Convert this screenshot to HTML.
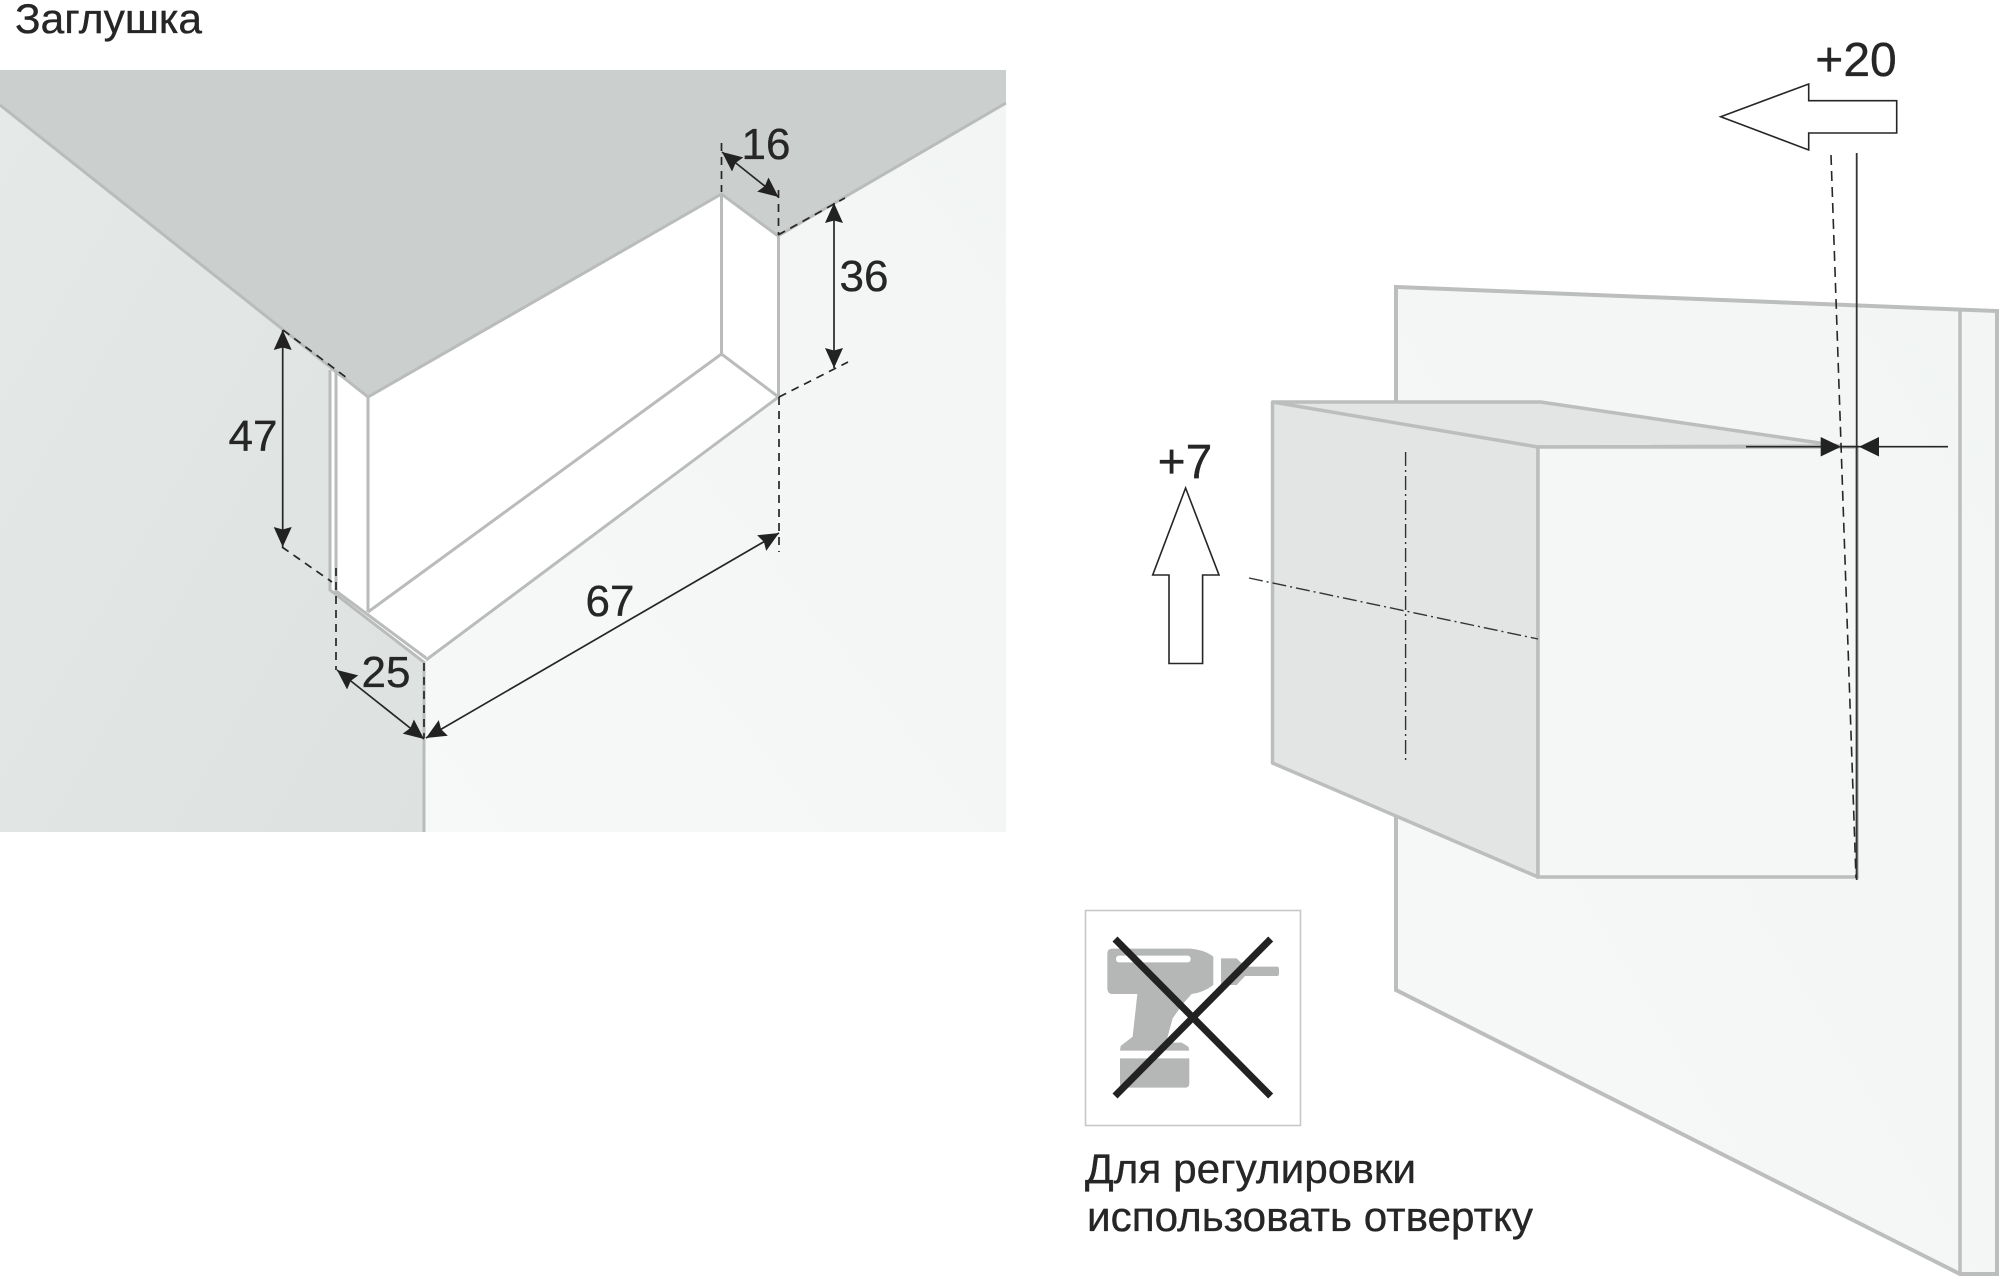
<!DOCTYPE html>
<html><head><meta charset="utf-8"><title>Заглушка</title>
<style>html,body{margin:0;padding:0;background:#fff}svg{display:block}text{font-family:"Liberation Sans",sans-serif;fill:#262626;stroke:#262626;stroke-width:.35}</style></head>
<body>
<svg xmlns="http://www.w3.org/2000/svg" width="2000" height="1276" viewBox="0 0 2000 1276">
<defs>
<marker id="a" markerUnits="userSpaceOnUse" markerWidth="24" markerHeight="20" refX="20" refY="9" orient="auto-start-reverse"><path d="M0,0 L20,9 L0,18 L2.5,9Z" fill="#222"/></marker>
<linearGradient id="lw" x1="0" y1="0" x2="1" y2="1"><stop offset="0" stop-color="#e5e9e7"/><stop offset="1" stop-color="#dde1df"/></linearGradient>
<linearGradient id="rw" x1="0" y1="1" x2="1" y2="0"><stop offset="0" stop-color="#f7f8f8"/><stop offset="1" stop-color="#f2f5f4"/></linearGradient>
</defs>
<rect width="2000" height="1276" fill="#fff"/>

<!-- Left panel walls -->
<polygon points="0,103 369,397 330,590 425,663 424,832 0,832" fill="url(#lw)"/>
<polygon points="1006,103 778,236 778,397 424,662 424,832 1006,832" fill="url(#rw)"/>
<polygon points="330,370 369,397 721,194 778,236 778,397 427,659 425,663 330,590" fill="#fff"/>
<polygon points="0,70 1006,70 1006,103 778,236 721.5,194 368,397 0,105" fill="#cbcfce"/>
<g fill="none" stroke="#b9bcbb" stroke-width="3">
<polyline points="0,105 368,397 721.5,194 778,236 1006,103"/>
<line x1="424" y1="663" x2="424" y2="832"/>
<line x1="368" y1="397" x2="368" y2="612"/>
<line x1="721.5" y1="194" x2="721.5" y2="354"/>
<line x1="778.5" y1="236" x2="778.5" y2="397"/>
<polyline points="368,612 721.5,354 778.5,397 426,660"/>
<polyline points="330,370 330,590 425,663"/>
<polyline points="336,372 336,591 426,658"/>
</g>

<!-- Left panel dashes -->
<g fill="none" stroke="#262626" stroke-width="1.7" stroke-dasharray="8 6">
<line x1="721.5" y1="143" x2="721.5" y2="192"/>
<line x1="778.5" y1="190" x2="778.5" y2="235"/>
<line x1="778" y1="235" x2="845" y2="198"/>
<line x1="779" y1="397" x2="848" y2="362"/>
<line x1="779" y1="397" x2="779" y2="552"/>
<line x1="283" y1="330" x2="347" y2="378"/>
<line x1="282" y1="547" x2="332" y2="582"/>
<line x1="336" y1="568" x2="336" y2="670"/>
<line x1="424" y1="663" x2="424" y2="738"/>
</g>
<!-- Dimension lines -->
<g fill="none" stroke="#262626" stroke-width="1.7" marker-start="url(#a)" marker-end="url(#a)">
<line x1="722" y1="152" x2="778.5" y2="197"/>
<line x1="834" y1="203" x2="834" y2="368"/>
<line x1="282.7" y1="330" x2="282.7" y2="547"/>
<line x1="337" y1="670" x2="424" y2="739"/>
<line x1="426" y1="738" x2="779" y2="533"/>
</g>
<g font-size="44">
<text x="766" y="159" text-anchor="middle">16</text>
<text x="864" y="291" text-anchor="middle">36</text>
<text x="253" y="451" text-anchor="middle">47</text>
<text x="386" y="687" text-anchor="middle">25</text>
<text x="610" y="616" text-anchor="middle">67</text>
</g>
<text x="15" y="33" font-size="42" textLength="187" lengthAdjust="spacingAndGlyphs">Заглушка</text>

<!-- Right panel -->
<polygon points="1396,287 1997,311 1997,1274 1960,1274 1396,990" fill="url(#rw)" stroke="#bcbebd" stroke-width="4" stroke-linejoin="miter"/>
<line x1="1960" y1="311" x2="1960" y2="1274" stroke="#bcbebd" stroke-width="3.5"/>
<polygon points="1272.5,402 1540.5,402 1840,446 1538,447 1538,877 1272.5,763" fill="#e3e4e4" stroke="#bcbebd" stroke-width="3.5" stroke-linejoin="round"/>
<polyline points="1272.5,402 1538,447" fill="none" stroke="#bcbebd" stroke-width="3.5"/>
<polygon points="1538,447 1857,447 1857,877 1538,877" fill="#f5f7f6" stroke="#bcbebd" stroke-width="3.5"/>

<g fill="none" stroke="#333" stroke-width="1.4" stroke-dasharray="14 4 2 4">
<line x1="1405.6" y1="452" x2="1405.6" y2="762"/>
<line x1="1249" y1="578" x2="1538" y2="639"/>
</g>
<polygon points="1185.6,488 1219,575 1202.6,575 1202.6,663.5 1169,663.5 1169,575 1152.7,575" fill="#fff" stroke="#262626" stroke-width="1.6"/>
<polygon points="1720.7,116.7 1808.7,84 1808.7,100.7 1896.7,100.7 1896.7,133 1808.7,133 1808.7,150" fill="#fff" stroke="#262626" stroke-width="1.6"/>
<text x="1185" y="478" font-size="48" text-anchor="middle">+7</text>
<text x="1856" y="76" font-size="48" text-anchor="middle">+20</text>
<line x1="1856.7" y1="153" x2="1856.7" y2="880" stroke="#333" stroke-width="1.8"/>
<line x1="1831" y1="155" x2="1856" y2="878" stroke="#262626" stroke-width="1.6" stroke-dasharray="10 6"/>
<line x1="1746" y1="446.7" x2="1948" y2="446.7" stroke="#262626" stroke-width="1.7"/>
<polygon points="1820.7,437 1841,446.7 1820.7,456.5" fill="#222"/>
<polygon points="1879,437 1859,446.7 1879,456.5" fill="#222"/>

<!-- No drill icon -->
<rect x="1085.5" y="910.5" width="215" height="215" fill="#fff" stroke="#c8c8c8" stroke-width="1.6"/>
<g transform="translate(1060 890) scale(.3333)">
<path fill="#b5b6b6" fill-rule="evenodd" d="M158,176 H390 Q435,180 460,200 V285 Q430,308 395,312 H232 L218,440 L182,468 L180,482 H388 L385,470 L365,458 H318 L338,385 L370,340 L395,312 H232 H155 Q142,310 142,295 V190 Q142,176 158,176Z M178,197 Q168,197 168,207 Q168,217 178,217 H382 Q392,217 392,207 Q392,197 382,197Z"/>
<path fill="#b5b6b6" d="M180,505 H388 V580 Q388,593 375,593 H195 Q180,593 180,580Z"/>
<path fill="#b5b6b6" d="M483,205 H530 L555,230 H650 Q657,230 657,236 V252 Q657,258 650,258 H555 L530,285 H483Z"/>
</g>
<g stroke="#222" stroke-width="7">
<line x1="1115" y1="939" x2="1270.7" y2="1096"/>
<line x1="1270.7" y1="939" x2="1115" y2="1096"/>
</g>
<text x="1085" y="1183" font-size="42" textLength="331" lengthAdjust="spacingAndGlyphs">Для регулировки</text>
<text x="1087" y="1231" font-size="42" textLength="446" lengthAdjust="spacingAndGlyphs">использовать отвертку</text>
</svg>
</body></html>
